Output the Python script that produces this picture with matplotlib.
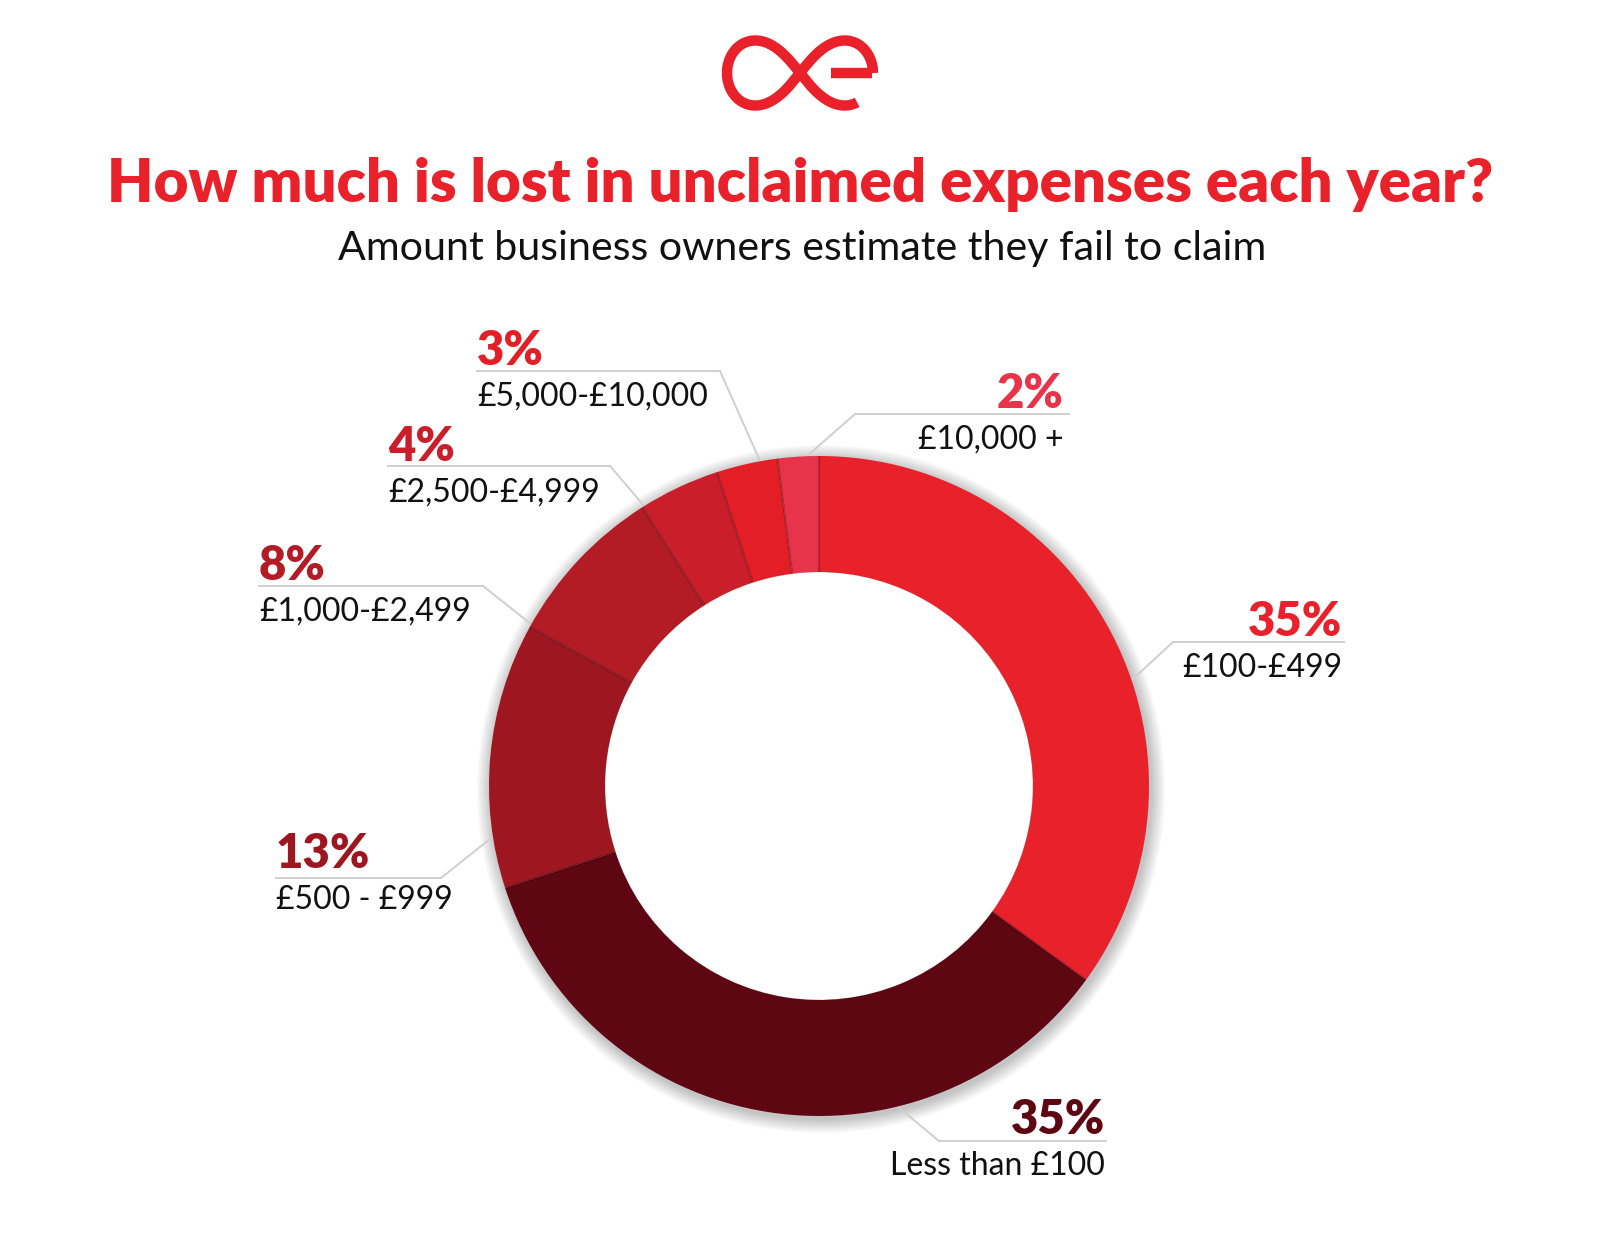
"""Donut chart: unclaimed business expenses per year."""
import numpy as np
import matplotlib

matplotlib.use("Agg")
import matplotlib.pyplot as plt

W, H = 1600, 1238

# data (clockwise from 12 o'clock)
categories = ["£100-£499", "Less than £100", "£500 - £999", "£1,000-£2,499",
              "£2,500-£4,999", "£5,000-£10,000", "£10,000 +"]
shares = [35, 35, 13, 8, 4, 3, 2]
colors = ["#E8212A", "#5E0612", "#9E1620", "#B31B25", "#CA1E2A", "#E31E26", "#E8344A"]

# label layout in pixel coords (y from top): text x, align, pct baseline,
# rule y, rule x-range, leader end point on the ring
labels = [
    dict(x=1342, ha="right", pct_y=636, rule_y=642, rule=(1173, 1344), lead=(1173, 642, 1133, 679)),
    dict(x=1105, ha="right", pct_y=1134, rule_y=1141, rule=(939, 1106), lead=(939, 1141, 898, 1107)),
    dict(x=276, ha="left", pct_y=868, rule_y=878, rule=(276, 441), lead=(441, 878, 490, 839)),
    dict(x=259, ha="left", pct_y=580, rule_y=586, rule=(259, 483), lead=(483, 586, 531, 624)),
    dict(x=388, ha="left", pct_y=461, rule_y=466, rule=(388, 610), lead=(610, 466, 645, 507)),
    dict(x=477, ha="left", pct_y=365, rule_y=371, rule=(477, 720), lead=(720, 371, 760, 461)),
    dict(x=1064, ha="right", pct_y=408, rule_y=414, rule=(855, 1069), lead=(855, 414, 806, 457)),
]

CX, CY, R, RIN = 819, 786, 330, 214
FONT = "Lato"


def Y(y):
    return H - y


fig = plt.figure(figsize=(W / 100, H / 100), dpi=100)
ax = fig.add_axes([0, 0, 1, 1])

# soft drop shadow behind ring
for i in range(12):
    ring = plt.Circle((CX + 2, Y(CY) - 3), R + 1 + i * 1.2, color="black",
                      alpha=0.02, lw=0)
    ax.add_patch(ring)
ax.add_patch(plt.Circle((CX, Y(CY)), RIN - 1, color="white", zorder=1))

wedges, _ = ax.pie(shares, colors=colors, startangle=90, counterclock=False,
                   radius=R, center=(CX, Y(CY)),
                   wedgeprops=dict(width=R - RIN, linewidth=0))
for w in wedges:
    w.set_zorder(2)

# darker seams between slices
bounds = 90 - 360 * np.cumsum([0] + shares[:-1]) / sum(shares)
for a in np.deg2rad(bounds):
    ax.plot([CX + RIN * np.cos(a), CX + R * np.cos(a)],
            [Y(CY) + RIN * np.sin(a), Y(CY) + R * np.sin(a)],
            color="black", alpha=0.22, lw=1.6, zorder=3, solid_capstyle="butt")

# labels
for cat, pct, col, lb in zip(categories, shares, colors, labels):
    ax.text(lb["x"], Y(lb["pct_y"]), f"{pct}%", ha=lb["ha"], va="baseline",
            fontsize=34, fontweight="heavy", color=col, family=FONT)
    ax.text(lb["x"], Y(lb["pct_y"] + 41), cat, ha=lb["ha"], va="baseline",
            fontsize=23, color="#111111", family=FONT)
    x0, x1 = lb["rule"]
    ax.plot([x0, x1], [Y(lb["rule_y"])] * 2, color="#cfcfcf", lw=1.4, zorder=1)
    lx0, ly0, lx1, ly1 = lb["lead"]
    ax.plot([lx0, lx1], [Y(ly0), Y(ly1)], color="#cfcfcf", lw=1.4, zorder=1)

# title block
ax.text(800, Y(202), "How much is lost in unclaimed expenses each year?",
        ha="center", va="baseline", fontsize=43.2, fontweight="heavy",
        color="#E8212A", family=FONT)
ax.text(802, Y(260), "Amount business owners estimate they fail to claim",
        ha="center", va="baseline", fontsize=29.6, color="#111111", family=FONT)

# logo: infinity loop with an open "e" on the right
t = np.linspace(0, 2 * np.pi - 0.42, 400)
lx = np.cos(t) / (1 + np.sin(t) ** 2)
ly = np.sin(t) * np.cos(t) / (1 + np.sin(t) ** 2)
ax.plot(800 + 73 * lx, Y(73) + 92 * ly, color="#E8212A", lw=7.5,
        solid_capstyle="butt", zorder=4)
ax.plot([800 + 73 * 0.99, 800 + 73 * 0.42], [Y(73), Y(73)], color="#E8212A",
        lw=7.5, solid_capstyle="butt", zorder=4)

ax.set_xlim(0, W)
ax.set_ylim(0, H)
ax.set_aspect("equal")
ax.axis("off")
fig.savefig("out.png", dpi=100, facecolor="white")
